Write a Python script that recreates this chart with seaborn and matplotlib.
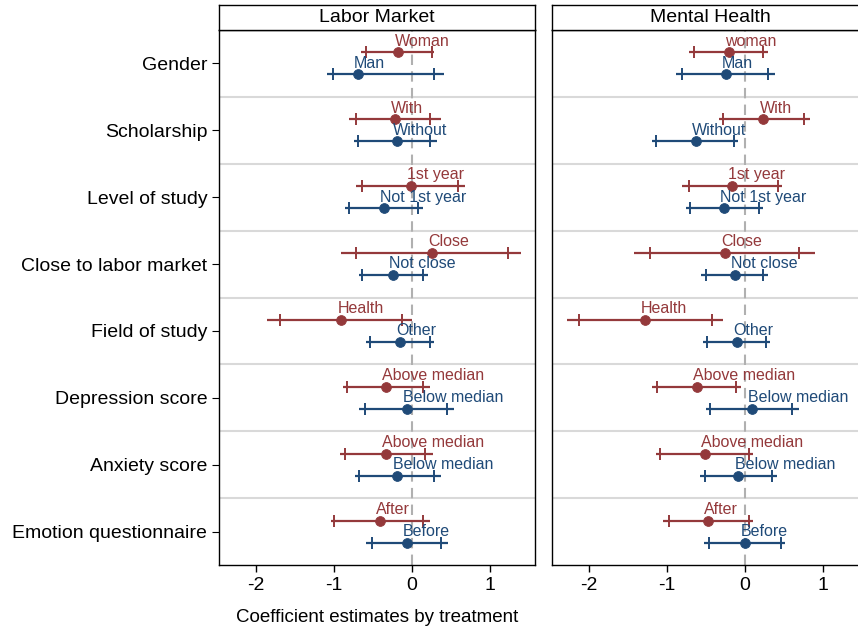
import numpy as np
import pandas as pd
import matplotlib
matplotlib.use("Agg")
import matplotlib.pyplot as plt
import seaborn as sns

sns.set_style("white")
plt.rcParams['font.family'] = ['Liberation Sans', 'DejaVu Sans']
plt.rcParams['text.color'] = 'black'
plt.rcParams['xtick.color'] = 'black'
plt.rcParams['ytick.color'] = 'black'

# ---- data ----
rows = ["Gender", "Scholarship", "Level of study", "Close to labor market",
        "Field of study", "Depression score", "Anxiety score", "Emotion questionnaire"]
red_labels = ["Woman", "With", "1st year", "Close", "Health", "Above median", "Above median", "After"]
blue_labels = ["Man", "Without", "Not 1st year", "Not close", "Other", "Below median", "Below median", "Before"]
red_labels_mh = ["woman", "With", "1st year", "Close", "Health", "Above median", "Above median", "After"]

# Labor market: estimate, inner CI (lo, hi), outer CI (lo, hi)
lab_red_est = [-0.17, -0.22, -0.01, 0.26, -0.90, -0.33, -0.33, -0.41]
lab_red_in_lo = [-0.59, -0.72, -0.64, -0.71, -1.69, -0.83, -0.86, -0.99]
lab_red_in_hi = [0.26, 0.24, 0.59, 1.23, -0.13, 0.15, 0.17, 0.15]
lab_red_out_lo = [-0.65, -0.81, -0.72, -0.90, -1.85, -0.88, -0.92, -1.04]
lab_red_out_hi = [0.28, 0.37, 0.68, 1.40, 0.00, 0.23, 0.27, 0.23]
lab_blue_est = [-0.69, -0.19, -0.36, -0.24, -0.15, -0.06, -0.19, -0.06]
lab_blue_in_lo = [-1.01, -0.69, -0.81, -0.64, -0.54, -0.60, -0.67, -0.51]
lab_blue_in_hi = [0.28, 0.24, 0.08, 0.15, 0.23, 0.45, 0.29, 0.37]
lab_blue_out_lo = [-1.09, -0.74, -0.86, -0.68, -0.59, -0.67, -0.73, -0.59]
lab_blue_out_hi = [0.42, 0.33, 0.14, 0.21, 0.29, 0.54, 0.37, 0.46]

# Mental health
mh_red_est = [-0.20, 0.24, -0.16, -0.25, -1.28, -0.61, -0.51, -0.47]
mh_red_in_lo = [-0.65, -0.28, -0.72, -1.22, -2.13, -1.13, -1.08, -0.97]
mh_red_in_hi = [0.24, 0.76, 0.43, 0.70, -0.42, -0.11, 0.05, 0.05]
mh_red_out_lo = [-0.72, -0.33, -0.80, -1.42, -2.28, -1.19, -1.14, -1.05]
mh_red_out_hi = [0.30, 0.84, 0.48, 0.90, -0.28, -0.05, 0.11, 0.10]
mh_blue_est = [-0.24, -0.63, -0.27, -0.13, -0.10, 0.09, -0.08, 0.00]
mh_blue_in_lo = [-0.80, -1.14, -0.70, -0.49, -0.48, -0.44, -0.51, -0.46]
mh_blue_in_hi = [0.30, -0.14, 0.18, 0.23, 0.27, 0.61, 0.35, 0.46]
mh_blue_out_lo = [-0.88, -1.19, -0.75, -0.56, -0.54, -0.50, -0.57, -0.52]
mh_blue_out_hi = [0.39, -0.09, 0.23, 0.30, 0.32, 0.69, 0.42, 0.52]

RED = "#94393b"
BLUE = "#1f4a78"
OFF = 0.165

fig = plt.figure(figsize=(8.58, 6.33), dpi=100)
W = 316 / 858
H = 535 / 633
B = 68 / 633
ax1 = fig.add_axes([219 / 858, B, W, H])
ax2 = fig.add_axes([552 / 858, B, W, H])


def draw(ax, title, rl, red, blue):
    y = np.arange(len(rows))
    for (est, ilo, ihi, olo, ohi), col, off, labs in [
            (red, RED, -OFF, rl), (blue, BLUE, OFF, blue_labels)]:
        yy = y + off
        ax.hlines(yy, olo, ohi, color=col, lw=1.6, zorder=3)
        ax.vlines(ilo, yy - 0.09, yy + 0.09, color=col, lw=1.4, zorder=3)
        ax.vlines(ihi, yy - 0.09, yy + 0.09, color=col, lw=1.4, zorder=3)
        df = pd.DataFrame({"est": est, "y": yy})
        sns.scatterplot(data=df, x="est", y="y", ax=ax, color=col, s=50,
                        edgecolor=col, zorder=4, legend=False)
        for e, yv, t in zip(est, yy, labs):
            ax.text(e - 0.05, yv - 0.1, t, color=col, fontsize=11.5,
                    ha="left", va="baseline", zorder=5)
    for b in np.arange(0.5, len(rows) - 0.5, 1):
        ax.axhline(b, color="#d9d9d9", lw=1.5, zorder=1)
    ax.axvline(0, color="#b0b0b0", lw=1.5, ls=(0, (5, 3)), zorder=2)
    ax.set_xlim(-2.47, 1.58)
    ax.set_ylim(len(rows) - 0.5, -0.5)
    ax.set_xticks([-2, -1, 0, 1])
    ax.set_xticklabels(["-2", "-1", "0", "1"], fontsize=14)
    ax.set_xlabel("")
    ax.set_ylabel("")
    ax.tick_params(axis="x", direction="out", length=5, width=1, bottom=True)
    for s in ax.spines.values():
        s.set_color("black")
        s.set_linewidth(1)
    # header strip
    pos = ax.get_position()
    hax = fig.add_axes([pos.x0, pos.y1, pos.width, 25 / 633])
    hax.set_xticks([])
    hax.set_yticks([])
    for s in hax.spines.values():
        s.set_color("black")
        s.set_linewidth(1)
    hax.text(0.5, 0.5, title, ha="center", va="center", fontsize=14,
             transform=hax.transAxes)


draw(ax1, "Labor Market", red_labels,
     (lab_red_est, lab_red_in_lo, lab_red_in_hi, lab_red_out_lo, lab_red_out_hi),
     (lab_blue_est, lab_blue_in_lo, lab_blue_in_hi, lab_blue_out_lo, lab_blue_out_hi))
draw(ax2, "Mental Health", red_labels_mh,
     (mh_red_est, mh_red_in_lo, mh_red_in_hi, mh_red_out_lo, mh_red_out_hi),
     (mh_blue_est, mh_blue_in_lo, mh_blue_in_hi, mh_blue_out_lo, mh_blue_out_hi))

ax1.set_yticks(np.arange(len(rows)))
ax1.set_yticklabels(rows, fontsize=14)
ax1.tick_params(axis="y", direction="out", length=5, left=True)
ax2.set_yticks(np.arange(len(rows)))
ax2.set_yticklabels([])
ax2.tick_params(axis="y", length=0)

fig.text((219 + 158) / 858, 1 - 618 / 633, "Coefficient estimates by treatment",
         ha="center", va="center", fontsize=13.5)

fig.savefig("out.png", dpi=100)
